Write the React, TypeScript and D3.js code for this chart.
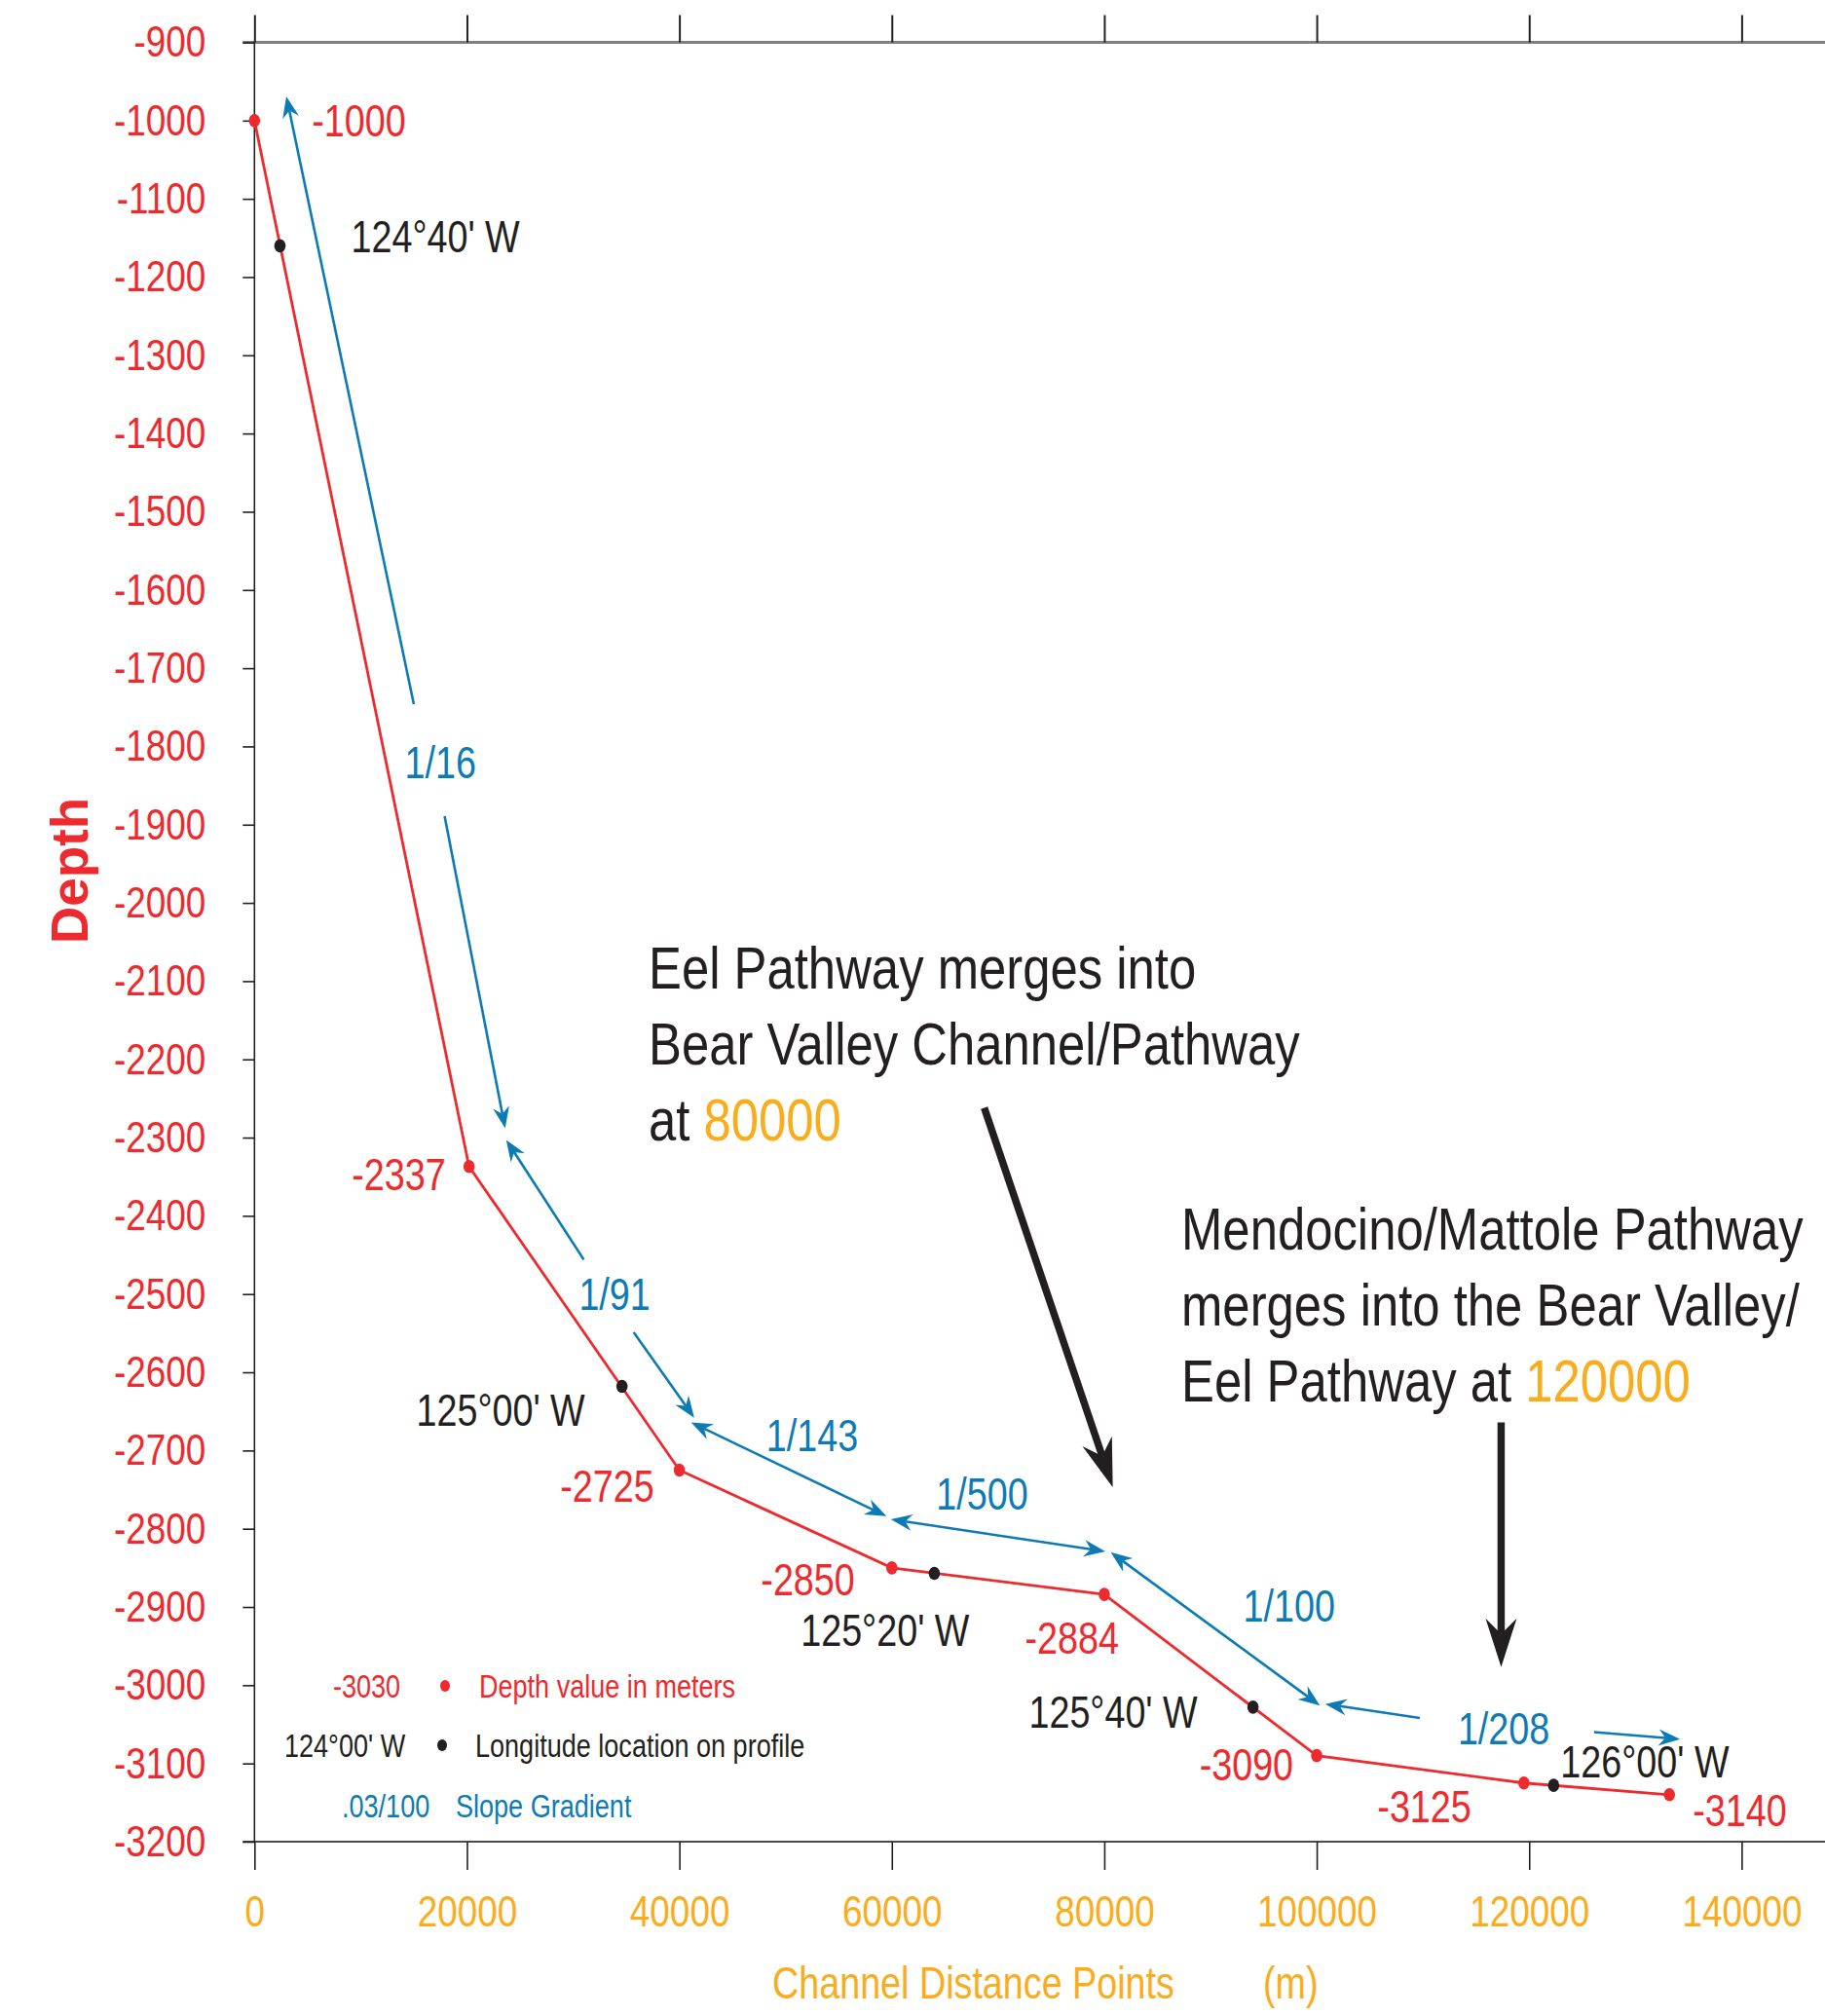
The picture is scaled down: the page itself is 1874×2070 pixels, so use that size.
import React, { useEffect, useRef } from 'react';
import * as d3 from 'd3';

// profile along the channel: distance (m) and depth (m)
const distances = [0, 20200, 40000, 60000, 80000, 100000, 119500, 133200];
const depths = [-1000, -2337, -2725, -2850, -2884, -3090, -3125, -3140];

// longitude marks on the profile
const lonDistances = [2400, 34600, 64000, 94000, 122300];
const lonDepths = [-1160, -2618, -2857, -3028, -3128];
const lonLabels = ["124\u00b040' W", "125\u00b000' W", "125\u00b020' W", "125\u00b040' W", "126\u00b000' W"];

// slope gradient arrows (tail -> head), in distance / depth
const slopeTails: [number, number][] = [
  [15000, -1746], [17900, -1889], [31000, -2456], [35700, -2549],
  [41100, -2664], [59900, -2788], [80600, -2830], [109700, -3042], [126100, -3060],
];
const slopeHeads: [number, number][] = [
  [3000, -969], [23600, -2288], [23700, -2303], [41400, -2658],
  [59500, -2784], [80100, -2829], [100300, -3026], [100800, -3024], [134200, -3069],
];
const slopeBothEnds = [false, false, false, false, true, true, true, false, false];
const slopeLabels = ['1/16', '1/91', '1/143', '1/500', '1/100', '1/208'];
const slopeLabelAt: [number, number][] = [
  [17500, -1820], [33900, -2500], [52500, -2681], [68500, -2755], [97400, -2899], [117600, -3055],
];

// pathway merge callouts
const mergeTails: [number, number][] = [[68700, -2262], [117360, -2664]];
const mergeHeads: [number, number][] = [[80800, -2747], [117360, -2977]];

const yTickValues = [-900, -1000, -1100, -1200, -1300, -1400, -1500, -1600, -1700, -1800, -1900, -2000,
  -2100, -2200, -2300, -2400, -2500, -2600, -2700, -2800, -2900, -3000, -3100, -3200];
const xTickValues = [0, 20000, 40000, 60000, 80000, 100000, 120000, 140000];

const WIDTH = 1874;
const HEIGHT = 2070;
const RED = '#ED2A2E';
const BLUE = '#0C7BB5';
const ORANGE = '#FBAC1C';
const INK = '#231F20';
const SANS = '"Liberation Sans", Arial, sans-serif';
const SQUEEZE = 0.82; // condensed look of the original lettering

// label offsets in px from their point: [dx, dy, anchor]
const depthLabelPos: [number, number, string][] = [
  [59, 0, 'start'], [-24, 8, 'end'], [-26, 16, 'end'], [-38, 12, 'end'],
  [15, 45, 'end'], [-24, 9, 'end'], [-54, 24, 'end'], [24, 16, 'start'],
];
const lonLabelPos: [number, number, string][] = [
  [73, -9, 'start'], [-38, 24, 'end'], [36, 58, 'end'], [-57, 5, 'end'], [7, -24, 'start'],
];

type Sel = d3.Selection<SVGGElement, unknown, null, undefined>;

// move x/y into a transform so the glyphs can be narrowed around their anchor
function narrow(sel: d3.Selection<any, any, any, any>) {
  sel.each(function () {
    const t = d3.select(this);
    const xv = +(t.attr('x') || 0);
    const yv = +(t.attr('y') || 0);
    t.attr('x', 0).attr('y', 0).attr('transform', `translate(${xv},${yv}) scale(${SQUEEZE},1)`);
  });
}

function arrow(g: Sel, x1: number, y1: number, x2: number, y2: number, color: string, width: number,
  len: number, half: number, notch: number, both: boolean) {
  const dx = x2 - x1, dy = y2 - y1;
  const d = Math.hypot(dx, dy);
  const ux = dx / d, uy = dy / d, nx = -uy, ny = ux;
  const head = (tx: number, ty: number, sx: number, sy: number) => {
    const pts: [number, number][] = [
      [tx, ty],
      [tx - sx * len + nx * half, ty - sy * len + ny * half],
      [tx - sx * notch, ty - sy * notch],
      [tx - sx * len - nx * half, ty - sy * len - ny * half],
    ];
    g.append('path').attr('d', 'M' + pts.map(p => p.join(',')).join('L') + 'Z').attr('fill', color);
  };
  const sx1 = both ? x1 + ux * notch : x1;
  const sy1 = both ? y1 + uy * notch : y1;
  g.append('line')
    .attr('x1', sx1).attr('y1', sy1)
    .attr('x2', x2 - ux * notch).attr('y2', y2 - uy * notch)
    .attr('stroke', color).attr('stroke-width', width);
  head(x2, y2, ux, uy);
  if (both) head(x1, y1, -ux, -uy);
}

const App: React.FC = () => {
  const ref = useRef<SVGSVGElement | null>(null);

  useEffect(() => {
    if (!ref.current) return;
    const svg = d3.select(ref.current);
    svg.selectAll('*').remove();

    const x = d3.scaleLinear().domain([0, 140000]).range([261.3, 1788.4]);
    const y = d3.scaleLinear().domain([-900, -3200]).range([43.5, 1891]);

    // frame lines
    svg.append('line').attr('x1', x(0) - 12).attr('x2', WIDTH).attr('y1', y(-900)).attr('y2', y(-900))
      .attr('stroke', '#808080').attr('stroke-width', 3);
    svg.append('line').attr('x1', x(0) - 12).attr('x2', WIDTH).attr('y1', y(-3200)).attr('y2', y(-3200))
      .attr('stroke', '#4a4a4a').attr('stroke-width', 2);
    svg.append('line').attr('x1', x(0)).attr('x2', x(0)).attr('y1', y(-900)).attr('y2', y(-3200))
      .attr('stroke', INK).attr('stroke-width', 1.6);

    const yAxis = svg.append('g').attr('transform', `translate(${x(0)},0)`)
      .call(d3.axisLeft(y).tickValues(yTickValues).tickSize(12).tickPadding(38).tickFormat(d => String(d)));
    yAxis.select('.domain').remove();
    yAxis.selectAll('line').attr('stroke', INK).attr('stroke-width', 1.6);
    yAxis.selectAll('text').attr('fill', RED).attr('font-family', SANS).attr('font-size', 45);
    narrow(yAxis.selectAll('text'));

    const topAxis = svg.append('g').attr('transform', `translate(0,${y(-900)})`)
      .call(d3.axisTop(x).tickValues(xTickValues).tickSize(28).tickFormat(() => ''));
    topAxis.select('.domain').remove();
    topAxis.selectAll('line').attr('stroke', INK).attr('stroke-width', 2);

    const bottomAxis = svg.append('g').attr('transform', `translate(0,${y(-3200)})`)
      .call(d3.axisBottom(x).tickValues(xTickValues).tickSize(29).tickPadding(26).tickFormat(d => String(d)));
    bottomAxis.select('.domain').remove();
    bottomAxis.selectAll('line').attr('stroke', INK).attr('stroke-width', 1.6);
    bottomAxis.selectAll('text').attr('fill', ORANGE).attr('font-family', SANS).attr('font-size', 45);
    narrow(bottomAxis.selectAll('text'));

    // axis titles
    svg.append('text').attr('transform', 'translate(90,894) rotate(-90)')
      .attr('text-anchor', 'middle').attr('font-family', SANS).attr('font-weight', 'bold')
      .attr('font-size', 53).attr('fill', RED).text('Depth');
    const xTitle = svg.append('g').attr('font-family', SANS).attr('font-size', 46).attr('fill', ORANGE);
    xTitle.append('text').attr('x', 793).attr('y', 2052).text('Channel Distance Points');
    xTitle.append('text').attr('x', 1297).attr('y', 2052).text('(m)');
    narrow(xTitle.selectAll('text'));

    // slope gradient arrows
    const blue = svg.append('g');
    slopeTails.forEach((t, i) => {
      const h = slopeHeads[i];
      arrow(blue, x(t[0]), y(t[1]), x(h[0]), y(h[1]), BLUE, 2.6, 22, 8.5, 15, slopeBothEnds[i]);
    });
    const slopeText = blue.selectAll('text.slope').data(slopeLabels).enter().append('text')
      .attr('class', 'slope')
      .attr('x', (_, i) => x(slopeLabelAt[i][0])).attr('y', (_, i) => y(slopeLabelAt[i][1]))
      .attr('dy', '0.35em').attr('text-anchor', 'middle')
      .attr('font-family', SANS).attr('font-size', 46).attr('fill', BLUE)
      .text(d => d);
    narrow(slopeText);

    // profile
    const line = d3.line<number>().x((_, i) => x(distances[i])).y(d => y(d));
    svg.append('path').datum(depths).attr('d', line).attr('fill', 'none')
      .attr('stroke', RED).attr('stroke-width', 2.8);

    svg.selectAll('ellipse.depth').data(depths).enter().append('ellipse')
      .attr('class', 'depth')
      .attr('cx', (_, i) => x(distances[i])).attr('cy', d => y(d))
      .attr('rx', 5.8).attr('ry', 6.8).attr('fill', RED);
    svg.selectAll('ellipse.lon').data(lonDepths).enter().append('ellipse')
      .attr('class', 'lon')
      .attr('cx', (_, i) => x(lonDistances[i])).attr('cy', d => y(d))
      .attr('rx', 5.8).attr('ry', 6.8).attr('fill', INK);

    const depthText = svg.selectAll('text.depthLabel').data(depths).enter().append('text')
      .attr('class', 'depthLabel')
      .attr('x', (_, i) => x(distances[i]) + depthLabelPos[i][0])
      .attr('y', (d, i) => y(d) + depthLabelPos[i][1])
      .attr('dy', '0.35em').attr('text-anchor', (_, i) => depthLabelPos[i][2])
      .attr('font-family', SANS).attr('font-size', 46).attr('fill', RED)
      .text(d => String(d));
    narrow(depthText);
    const lonText = svg.selectAll('text.lonLabel').data(lonLabels).enter().append('text')
      .attr('class', 'lonLabel')
      .attr('x', (_, i) => x(lonDistances[i]) + lonLabelPos[i][0])
      .attr('y', (_, i) => y(lonDepths[i]) + lonLabelPos[i][1])
      .attr('dy', '0.35em').attr('text-anchor', (_, i) => lonLabelPos[i][2])
      .attr('font-family', SANS).attr('font-size', 46).attr('fill', INK)
      .text(d => d);
    narrow(lonText);

    // merge callouts
    const callouts = svg.append('g');
    mergeTails.forEach((t, i) => {
      const h = mergeHeads[i];
      arrow(callouts, x(t[0]), y(t[1]), x(h[0]), y(h[1]), INK, 7.5, 50, 16, 34, false);
    });

    const block = (x0: number, y0: number, lines: [string, string][]) => {
      lines.forEach((ln, i) => {
        const t = svg.append('text').attr('x', x0).attr('y', y0 + i * 78)
          .attr('font-family', SANS).attr('font-size', 62).attr('fill', INK);
        t.append('tspan').text(ln[0]);
        if (ln[1]) t.append('tspan').attr('fill', ORANGE).text(ln[1]);
        narrow(t);
      });
    };
    block(x(37100), y(-2109), [
      ['Eel Pathway merges into', ''],
      ['Bear Valley Channel/Pathway', ''],
      ['at ', '80000'],
    ]);
    block(x(87250), y(-2443), [
      ['Mendocino/Mattole Pathway', ''],
      ['merges into the Bear Valley/', ''],
      ['Eel Pathway at ', '120000'],
    ]);

    // legend
    const legend = svg.append('g').attr('font-family', SANS).attr('font-size', 33);
    legend.append('text').attr('x', 342).attr('y', 1743).attr('fill', RED).text('-3030');
    legend.append('text').attr('x', 492).attr('y', 1743).attr('fill', RED).text('Depth value in meters');
    legend.append('text').attr('x', 292).attr('y', 1804).attr('fill', INK).text("124\u00b000' W");
    legend.append('text').attr('x', 488).attr('y', 1804).attr('fill', INK).text('Longitude location on profile');
    legend.append('text').attr('x', 351).attr('y', 1866).attr('fill', BLUE).text('.03/100');
    legend.append('text').attr('x', 468).attr('y', 1866).attr('fill', BLUE).text('Slope Gradient');
    narrow(legend.selectAll('text'));
    legend.append('ellipse').attr('cx', 457).attr('cy', 1731).attr('rx', 5).attr('ry', 6).attr('fill', RED);
    legend.append('ellipse').attr('cx', 454).attr('cy', 1792).attr('rx', 5).attr('ry', 6).attr('fill', INK);
  }, []);

  return (
    <svg ref={ref} width={WIDTH} height={HEIGHT}
      style={{ position: 'absolute', left: 0, top: 0, background: '#fff' }} />
  );
};

export default App;
